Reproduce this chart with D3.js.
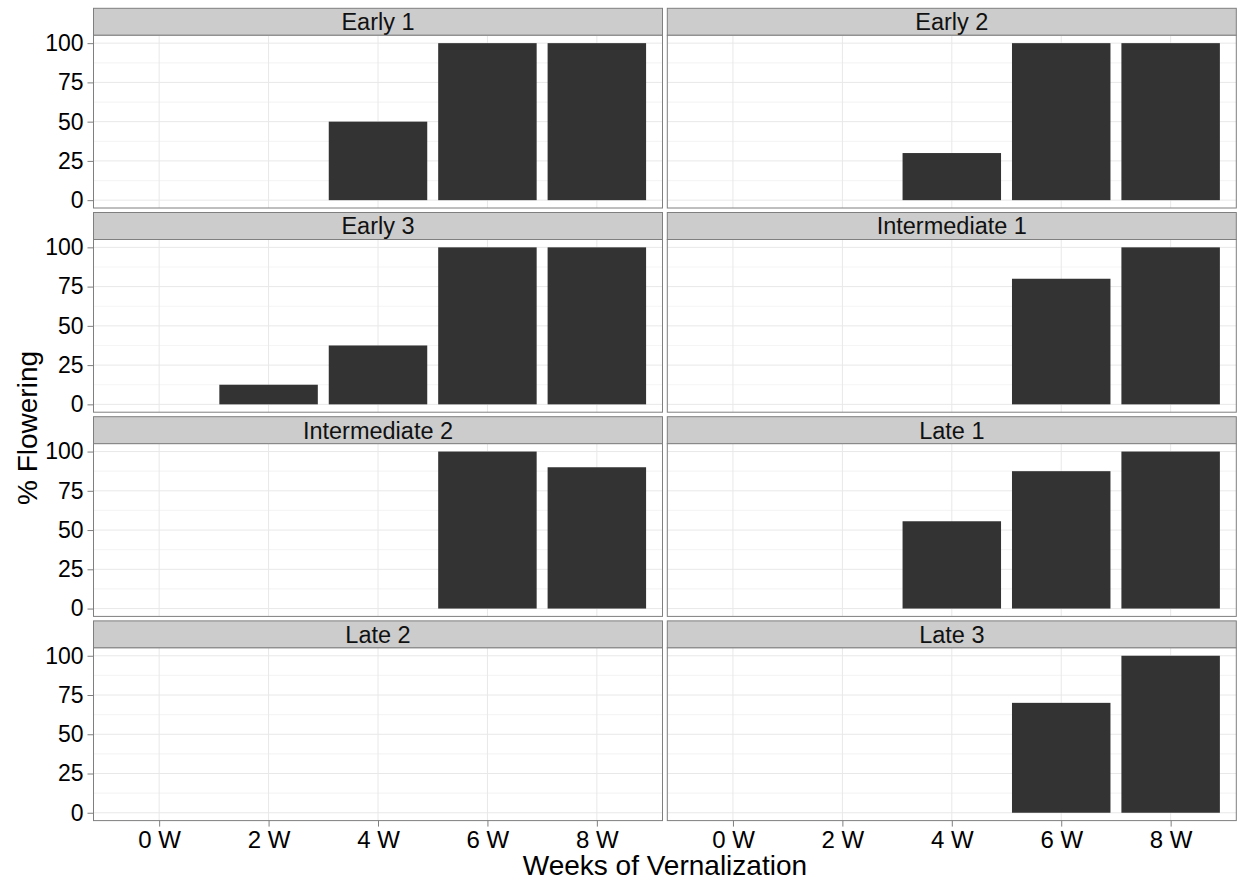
<!DOCTYPE html>
<html>
<head>
<meta charset="utf-8">
<script src="https://cdn.jsdelivr.net/npm/d3@7"></script>
<style>
  html, body { margin: 0; padding: 0; background: #ffffff; }
  svg { display: block; font-family: "Liberation Sans", Arial, sans-serif; }
</style>
</head>
<body>
<svg id="chart" width="1243" height="888"></svg>
<script>
// Vernalization response: % of plants flowering after 0–8 weeks of cold
const weeks = ["0 W", "2 W", "4 W", "6 W", "8 W"];
const lines = ["Early 1", "Early 2", "Early 3", "Intermediate 1",
               "Intermediate 2", "Late 1", "Late 2", "Late 3"];

const early1 = [0, 0, 50, 100, 100];
const early2 = [0, 0, 30, 100, 100];
const early3 = [0, 12.5, 37.5, 100, 100];
const intermediate1 = [0, 0, 0, 80, 100];
const intermediate2 = [0, 0, 0, 100, 90];
const late1 = [0, 0, 55.6, 87.5, 100];
const late2 = [0, 0, 0, 0, 0];
const late3 = [0, 0, 0, 70, 100];

const yTicks = [0, 25, 50, 75, 100];
const yMinor = [12.5, 37.5, 62.5, 87.5];

const seriesByLine = [early1, early2, early3, intermediate1,
                      intermediate2, late1, late2, late3];

// Facet grid geometry
const ncol = 2;
const colX = [93.5, 667.3];
const panelW = 569;
const rowTop = [8.3, 212.5, 416.7, 620.9];
const stripH = 27;
const panelH = 172.7;

const svg = d3.select("#chart");

const x = d3.scalePoint().domain(weeks).range([0, panelW]).padding(0.6);
const barW = x.step() * 0.9;
const y = d3.scaleLinear().domain([-5, 105]).range([panelH, 0]);

const borderCol = "#7f7f7f";

lines.forEach((name, i) => {
  const col = i % ncol, row = Math.floor(i / ncol);
  const px = colX[col];
  const sy = rowTop[row];
  const py = sy + stripH;
  const vals = seriesByLine[i];

  // strip
  const strip = svg.append("g").attr("transform", `translate(${px},${sy})`);
  strip.append("rect")
    .attr("width", panelW).attr("height", stripH)
    .attr("fill", "#cccccc").attr("stroke", borderCol).attr("stroke-width", 1);
  strip.append("text")
    .attr("x", panelW / 2).attr("y", stripH / 2).attr("dy", "0.36em")
    .attr("text-anchor", "middle").attr("font-size", 23.5).attr("fill", "#111")
    .text(name);

  const g = svg.append("g").attr("transform", `translate(${px},${py})`);
  g.append("rect").attr("width", panelW).attr("height", panelH).attr("fill", "#fff");

  // grid
  g.selectAll(".minor").data(yMinor).join("line")
    .attr("x1", 0).attr("x2", panelW)
    .attr("y1", d => y(d)).attr("y2", d => y(d))
    .attr("stroke", "#f5f5f5").attr("stroke-width", 1.2);
  g.selectAll(".majorY").data(yTicks).join("line")
    .attr("x1", 0).attr("x2", panelW)
    .attr("y1", d => y(d)).attr("y2", d => y(d))
    .attr("stroke", "#e8e8e8").attr("stroke-width", 1);
  g.selectAll(".majorX").data(weeks).join("line")
    .attr("x1", d => x(d)).attr("x2", d => x(d))
    .attr("y1", 0).attr("y2", panelH)
    .attr("stroke", "#e8e8e8").attr("stroke-width", 1);

  // bars
  g.selectAll(".bar").data(weeks.map((w, k) => ({ w, v: vals[k] })).filter(d => d.v > 0))
    .join("rect")
    .attr("x", d => x(d.w) - barW / 2)
    .attr("width", barW)
    .attr("y", d => y(d.v))
    .attr("height", d => y(0) - y(d.v))
    .attr("fill", "#333333");

  // border
  g.append("rect").attr("width", panelW).attr("height", panelH)
    .attr("fill", "none").attr("stroke", borderCol).attr("stroke-width", 1);

  // y axis on left column
  if (col === 0) {
    const ya = g.append("g").call(d3.axisLeft(y).tickValues(yTicks).tickSize(6).tickPadding(4));
    ya.select(".domain").remove();
    ya.selectAll(".tick line").attr("stroke", borderCol);
    ya.selectAll(".tick text").attr("font-size", 23).attr("fill", "#000")
      .attr("font-family", "Liberation Sans, Arial, sans-serif");
  }
  // x axis on bottom row
  if (row === 3) {
    const xa = g.append("g").attr("transform", `translate(0,${panelH})`)
      .call(d3.axisBottom(x).tickSize(6).tickPadding(4));
    xa.select(".domain").remove();
    xa.selectAll(".tick line").attr("stroke", borderCol);
    xa.selectAll(".tick text").attr("font-size", 24).attr("fill", "#000")
      .attr("font-family", "Liberation Sans, Arial, sans-serif");
  }
});

// axis titles
svg.append("text")
  .attr("x", (colX[0] + colX[1] + panelW) / 2).attr("y", 875)
  .attr("text-anchor", "middle").attr("font-size", 28).attr("fill", "#000")
  .text("Weeks of Vernalization");

svg.append("text")
  .attr("transform", "translate(37,428) rotate(-90)")
  .attr("text-anchor", "middle").attr("font-size", 28).attr("fill", "#000")
  .text("% Flowering");
</script>
</body>
</html>
